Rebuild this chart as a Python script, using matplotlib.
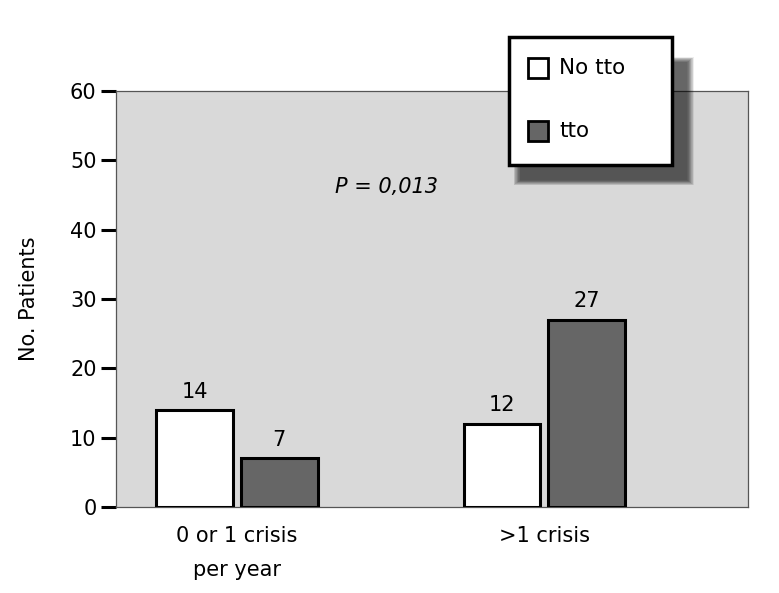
import matplotlib
matplotlib.use("Agg")
import matplotlib.pyplot as plt
from matplotlib.patches import Rectangle
import numpy as np

plt.rcParams['font.family'] = ['DejaVu Sans']

# Datos
categorias = ["0 or 1 crisis\nper year", ">1 crisis"]
no_tto = [14, 12]
tto = [7, 27]
series = ["No tto", "tto"]
colores = ["white", "#666666"]

fig = plt.figure(figsize=(7.79, 5.93), dpi=100)
ax = fig.add_axes([0.1489, 0.145, 0.8111, 0.7015])
ax.set_facecolor("#d9d9d9")

x = np.arange(len(categorias))
ancho = 0.25
desp = 0.138
for vals, off, col in [(no_tto, -desp, colores[0]), (tto, desp, colores[1])]:
    barras = ax.bar(x + off, vals, ancho, color=col, edgecolor="black", linewidth=2.2, zorder=3)
    for b, v in zip(barras, vals):
        ax.text(b.get_x() + b.get_width() / 2, v + 1.2, str(v), ha="center", va="bottom",
                fontsize=15, zorder=4)

ax.set_xlim(-0.3935, 1.662)
ax.set_ylim(0, 60)
ax.set_yticks(range(0, 61, 10))
ax.set_xticks(x)
ax.set_xticklabels(categorias, fontsize=15, linespacing=1.85)
ax.tick_params(axis="y", length=11, width=2.2, labelsize=15, pad=3)
ax.tick_params(axis="x", length=0, pad=14)
for s in ax.spines.values():
    s.set_color("#555555")
    s.set_linewidth(0.9)

ax.set_ylabel("No. Patients", fontsize=15, labelpad=22)
ax.text(0.485, 46.2, "P = 0,013", style="italic", fontsize=15, ha="center", va="center")

# Leyenda manual con sombra difusa
lx0, ly0, lw, lh = 0.6534, 0.7218, 0.2092, 0.2158
for i in range(12):
    d = i * 0.0025
    fig.patches.append(Rectangle((lx0 + 0.006 + d * 0.3, ly0 - 0.034 + d * 0.3),
                                 lw + 0.022 - d * 0.6, lh - d * 0.6,
                                 transform=fig.transFigure, facecolor="black", alpha=0.07,
                                 edgecolor="none", zorder=5))
fig.patches.append(Rectangle((lx0, ly0), lw, lh, transform=fig.transFigure, facecolor="white",
                             edgecolor="black", linewidth=2.5, zorder=6))
for i, (nom, col) in enumerate(zip(series, colores)):
    yc = 1 - (68 + i * 63) / 593
    fig.patches.append(Rectangle((528 / 779, yc - 10 / 593), 20 / 779, 20 / 593,
                                 transform=fig.transFigure, facecolor=col, edgecolor="black",
                                 linewidth=2, zorder=7))
    fig.text(559 / 779, yc, nom, fontsize=15.5, va="center", ha="left", zorder=8)

fig.savefig("out.png", dpi=100)
